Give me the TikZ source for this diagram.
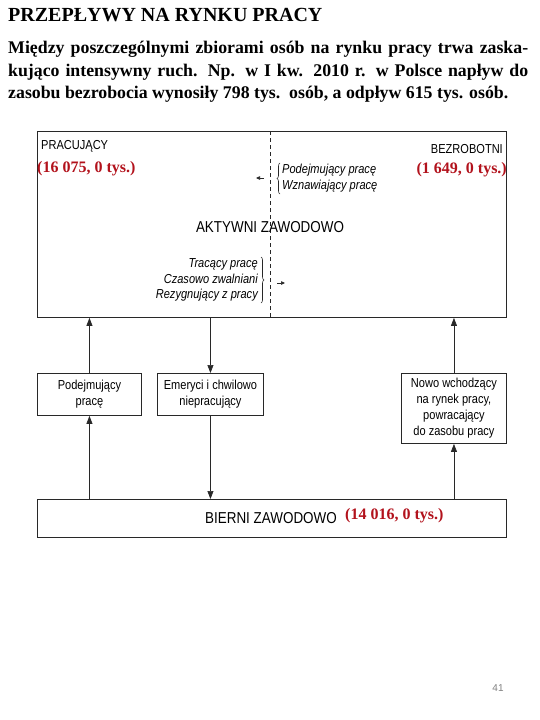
\documentclass[tikz,border=0pt]{standalone}
\usepackage{fontspec}
\setmainfont{Liberation Serif}
\newfontfamily\diag[FakeStretch=0.85]{Liberation Sans}
\newfontfamily\pgnum{Liberation Sans}
\usetikzlibrary{arrows.meta,decorations.pathreplacing}
\definecolor{numred}{RGB}{178,18,28}
\definecolor{linegray}{RGB}{40,40,40}
\tikzset{
  box/.style={draw=linegray, line width=0.9pt, inner sep=0pt, anchor=north west},
  txt/.style={inner sep=0pt, font=\diag\fontsize{13}{16}\selectfont},
  bigtxt/.style={inner sep=0pt, font=\diag\fontsize{15.8}{19}\selectfont},
  itxt/.style={inner sep=0pt, font=\diag\itshape\fontsize{13}{15.5}\selectfont},
  red/.style={inner sep=0pt, text=numred, font=\bfseries\fontsize{16}{19}\selectfont},
  arr/.style={draw=linegray, line width=0.7pt, -{Triangle[length=8pt,width=6pt]}},
  smallarr/.style={draw=linegray, line width=0.7pt, -{Triangle[length=4pt,width=3.5pt]}},
  dashline/.style={draw=linegray, line width=0.6pt, dash pattern=on 4pt off 3pt},
  bracestyle/.style={draw=linegray, line width=0.6pt, decorate, decoration={brace, amplitude=3pt}},
  para/.style={inner sep=0pt, anchor=base west, font=\bfseries\fontsize{17.8}{22}\selectfont}
}
\begin{document}
\begin{tikzpicture}[x=1pt,y=-1pt]
\useasboundingbox (0,0) rectangle (540,720);
% title and paragraph
\node[inner sep=0pt, anchor=base west, font=\bfseries\fontsize{20}{24}\selectfont] (title) at (8,21) {PRZEPŁYWY NA RYNKU PRACY};
\node[para] (p1) at (8,53.5) {\makebox[520pt][s]{Między poszczególnymi zbiorami osób na rynku pracy trwa zaska-}};
\node[para] (p2) at (8,76) {\makebox[520pt][s]{kująco intensywny ruch. Np. w I kw. 2010 r. w Polsce napływ do}};
\node[para] (p3) at (8,98.5) {zasobu bezrobocia wynosiły 798 tys.\ \ osób, a odpływ 615 tys. osób.};

% boxes
\node[box, minimum width=469pt, minimum height=186pt] (aktywni) at (37,131) {};
\node[box, minimum width=104pt, minimum height=42pt] (podej) at (37,373) {};
\node[box, minimum width=106pt, minimum height=42pt] (emeryci) at (157,373) {};
\node[box, minimum width=105pt, minimum height=70pt] (nowo) at (401,373) {};
\node[box, minimum width=469pt, minimum height=38pt] (bierni) at (37,499) {};

% box texts
\node[txt, align=center] (podejt) at (podej.center) {Podejmujący\\pracę};
\node[txt, align=center] (emeryt) at (emeryci.center) {Emeryci i chwilowo\\niepracujący};
\node[txt, align=center] (nowot) at (nowo.center) {Nowo wchodzący\\na rynek pracy,\\powracający\\do zasobu pracy};
\node[bigtxt, anchor=west] (biernit) at (205,518) {BIERNI ZAWODOWO};
\node[red, anchor=west] (red3) at (345,516) {(14 016, 0 tys.)};

% inside big box
\coordinate (dtop) at (270,0 |- aktywni.north);
\coordinate (dbot) at (270,0 |- aktywni.south);
\draw[dashline] (dtop) -- (dbot);
\node[txt, anchor=west] (prac) at (41,146) {PRACUJĄCY};
\node[red, anchor=west] (red1) at (37,169) {(16 075, 0 tys.)};
\node[txt, anchor=east] (bezr) at (503,149) {BEZROBOTNI};
\node[red, anchor=east] (red2) at (507,170) {(1 649, 0 tys.)};
\node[bigtxt] (aktt) at (270,227) {AKTYWNI ZAWODOWO};
\node[itxt, anchor=west, align=left] (podejm) at (282,178) {Podejmujący pracę\\Wznawiający pracę};
\node[itxt, anchor=east, align=right] (trac) at (258,280) {Tracący pracę\\Czasowo zwalniani\\Rezygnujący z pracy};
\draw[bracestyle] (280,194) -- (280,163);
\draw[bracestyle] (261,257) -- (261,303);
\coordinate (la1) at (264,178);
\coordinate (la2) at (256,178);
\draw[smallarr] (la1) -- (la2);
\coordinate (ra1) at (277,283);
\coordinate (ra2) at (285,283);
\draw[smallarr] (ra1) -- (ra2);

% connectors
\draw[arr] (podej.north) -- (podej.north |- aktywni.south);
\draw[arr] (aktywni.south -| emeryci.north) -- (emeryci.north);
\draw[arr] (nowo.north) -- (nowo.north |- aktywni.south);
\draw[arr] (bierni.north -| podej.south) -- (podej.south);
\draw[arr] (emeryci.south) -- (emeryci.south |- bierni.north);
\draw[arr] (bierni.north -| nowo.south) -- (nowo.south);

% page number
\node[inner sep=0pt, text=gray, font=\pgnum\fontsize{10}{12}\selectfont] (pg) at (498,688) {41};
\end{tikzpicture}
\end{document}
